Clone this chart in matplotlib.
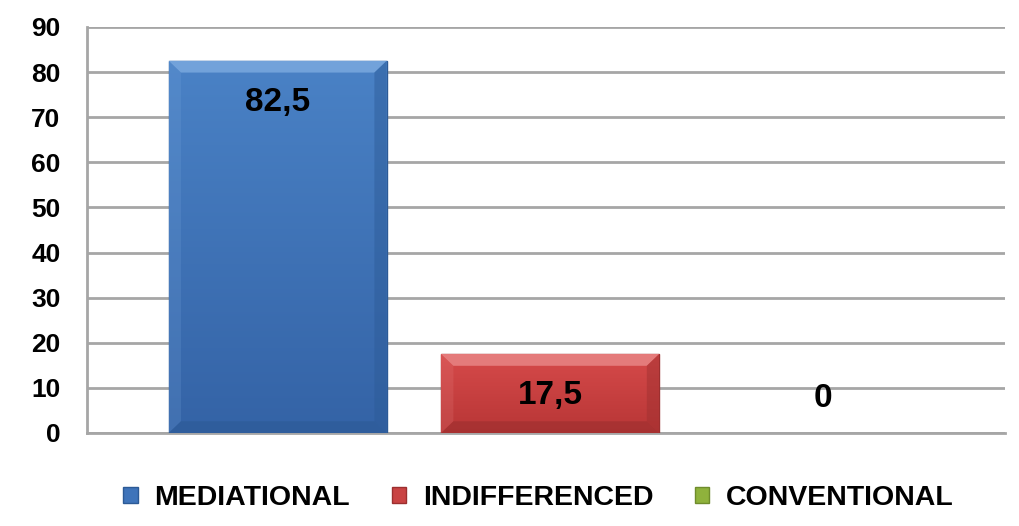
import matplotlib
matplotlib.use("Agg")
import matplotlib.pyplot as plt
import numpy as np
from matplotlib.patches import Patch, Polygon
from matplotlib.colors import LinearSegmentedColormap

categories = ["MEDIATIONAL", "INDIFFERENCED", "CONVENTIONAL"]
values = [82.5, 17.5, 0]
labels = ["82,5", "17,5", "0"]
yticks = [0, 10, 20, 30, 40, 50, 60, 70, 80, 90]

colors = ["#3f74ba", "#c94343", "#8fb23c"]
grad_top = ["#4a82c6", "#d64a4a", "#9cc24a"]
grad_bot = ["#3463a6", "#b83636", "#7f9f30"]
top_colors = ["#7aa8de", "#e88585", "#bcd878"]
dark_colors = ["#2c5a96", "#9c2f2f", "#6f8c2c"]

plt.rcParams['font.family'] = ['Liberation Sans', 'DejaVu Sans']
plt.rcParams['font.weight'] = 'bold'

fig = plt.figure(figsize=(10.19, 5.26), dpi=100)
ax = fig.add_axes([87/1019, 1-433/526, (1005-87)/1019, (433-27)/526])

x = list(range(len(categories)))
w = 0.8
bars = ax.bar(x, values, width=w, color=colors, edgecolor=dark_colors,
              linewidth=[1.0 if v > 0 else 0 for v in values], zorder=3)

bev_x = 0.045
bev_y = 2.6
for b, gt, gb, tc, dc in zip(bars, grad_top, grad_bot, top_colors, dark_colors):
    h = b.get_height()
    if h <= 0:
        continue
    x0 = b.get_x(); x1 = x0 + b.get_width()
    cmap = LinearSegmentedColormap.from_list("g", [gb, gt])
    grad = np.linspace(0, 1, 256).reshape(-1, 1)
    im = ax.imshow(grad, cmap=cmap, extent=(x0, x1, 0, h), origin='lower',
                   aspect='auto', zorder=3.5)
    im.set_clip_path(b)
    by = min(bev_y, h / 3)
    top = Polygon([(x0, h), (x1, h), (x1 - bev_x, h - by), (x0 + bev_x, h - by)],
                  closed=True, facecolor=tc, edgecolor='none', alpha=0.85, zorder=4)
    right = Polygon([(x1, h), (x1, 0), (x1 - bev_x, by), (x1 - bev_x, h - by)],
                    closed=True, facecolor=dc, edgecolor='none', alpha=0.45, zorder=4)
    left = Polygon([(x0, h), (x0, 0), (x0 + bev_x, by), (x0 + bev_x, h - by)],
                   closed=True, facecolor=tc, edgecolor='none', alpha=0.2, zorder=4)
    bottom = Polygon([(x0, 0), (x1, 0), (x1 - bev_x, by), (x0 + bev_x, by)],
                     closed=True, facecolor=dc, edgecolor='none', alpha=0.6, zorder=4)
    for p in (top, right, left, bottom):
        ax.add_patch(p)

for xi, v, lab in zip(x, values, labels):
    if v > 0:
        ax.annotate(lab, (xi, v), xytext=(0, -19), textcoords='offset points',
                    ha='center', va='top', fontsize=24, fontweight='bold', zorder=5)
    else:
        ax.annotate(lab, (xi, v), xytext=(0, 14), textcoords='offset points',
                    ha='center', va='bottom', fontsize=24, fontweight='bold', zorder=5)

ax.set_xlim(-0.70, 2.67)
ax.set_ylim(0, 90)
ax.set_yticks(yticks)
ax.set_yticklabels([str(t) for t in yticks], fontsize=19, fontweight='bold')
ax.set_xticks([])
ax.tick_params(axis='y', length=0, pad=19)
ax.yaxis.grid(True, color='#a6a6a6', linewidth=2, zorder=0)
ax.set_axisbelow(True)
for s in ['top', 'right']:
    ax.spines[s].set_visible(False)
for s in ['left', 'bottom']:
    ax.spines[s].set_color('#a6a6a6')
    ax.spines[s].set_linewidth(2)

handles = [Patch(facecolor=c, edgecolor=d, linewidth=1) for c, d in zip(colors, dark_colors)]
leg = fig.legend(handles, categories, loc='center', bbox_to_anchor=(538.5/1019, 1-498/526),
                 ncol=3, frameon=False, prop={'size': 20.5, 'weight': 'bold'},
                 handlelength=0.5, handleheight=0.5, handletextpad=0.6, columnspacing=1.45)

fig.savefig("out.png", dpi=100)
